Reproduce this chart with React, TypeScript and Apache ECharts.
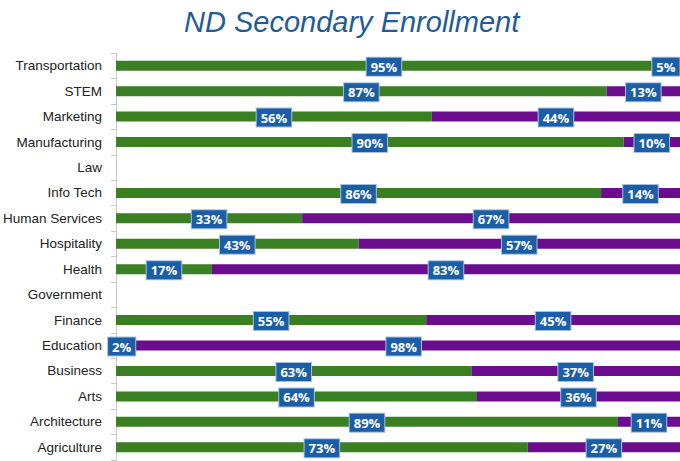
import React, { useEffect, useRef } from "react";
import * as echarts from "echarts";

const categories = [
  "Transportation", "STEM", "Marketing", "Manufacturing", "Law", "Info Tech",
  "Human Services", "Hospitality", "Health", "Government", "Finance",
  "Education", "Business", "Arts", "Architecture", "Agriculture",
];
const greenValues: (number | null)[] = [95, 87, 56, 90, null, 86, 33, 43, 17, null, 55, 2, 63, 64, 89, 73];
const purpleValues: (number | null)[] = [5, 13, 44, 10, null, 14, 67, 57, 83, null, 45, 98, 37, 36, 11, 27];

const labelStyle = {
  show: true,
  position: "inside" as const,
  formatter: (p: any) => (p.value == null ? "" : p.value + "%"),
  color: "#ffffff",
  fontWeight: "bold" as const,
  fontSize: 13,
  fontFamily: "Open Sans",
  backgroundColor: "#1b5ea8",
  borderColor: "#a8bfdc",
  borderWidth: 1,
  padding: [3, 4, 2, 4],
  offset: [0, 1],
};

export default function App() {
  const ref = useRef<HTMLDivElement>(null);
  useEffect(() => {
    const chart = echarts.init(ref.current!, undefined, { renderer: "svg" });
    chart.setOption({
      animation: false,
      title: {
        text: "ND Secondary Enrollment",
        left: 179,
        top: 2,
        textStyle: {
          fontFamily: "Liberation Sans",
          fontStyle: "italic",
          fontWeight: "normal",
          fontSize: 29,
          color: "#1f5b98",
        },
      },
      grid: { left: 115, right: 0, top: 53, bottom: 1, containLabel: false },
      xAxis: { type: "value", min: 0, max: 100, show: false },
      yAxis: {
        type: "category",
        data: categories,
        inverse: true,
        axisLine: { show: true, lineStyle: { color: "#c8c8c8" } },
        axisTick: { show: true, length: 5, lineStyle: { color: "#c8c8c8" } },
        axisLabel: { color: "#222", fontSize: 13.5, fontFamily: "Liberation Sans", margin: 14 },
      },
      series: [
        {
          type: "bar",
          stack: "total",
          data: greenValues.map((v) => (v == null ? "-" : v)),
          barWidth: 10,
          itemStyle: { color: "#3b7f23" },
          label: labelStyle,
        },
        {
          type: "bar",
          stack: "total",
          data: purpleValues.map((v) => (v == null ? "-" : v)),
          barWidth: 10,
          itemStyle: { color: "#6a0e8f" },
          label: labelStyle,
        },
      ],
    });
    return () => chart.dispose();
  }, []);
  return <div ref={ref} style={{ width: 680, height: 461, position: "absolute", left: 0, top: 0 }} />;
}
